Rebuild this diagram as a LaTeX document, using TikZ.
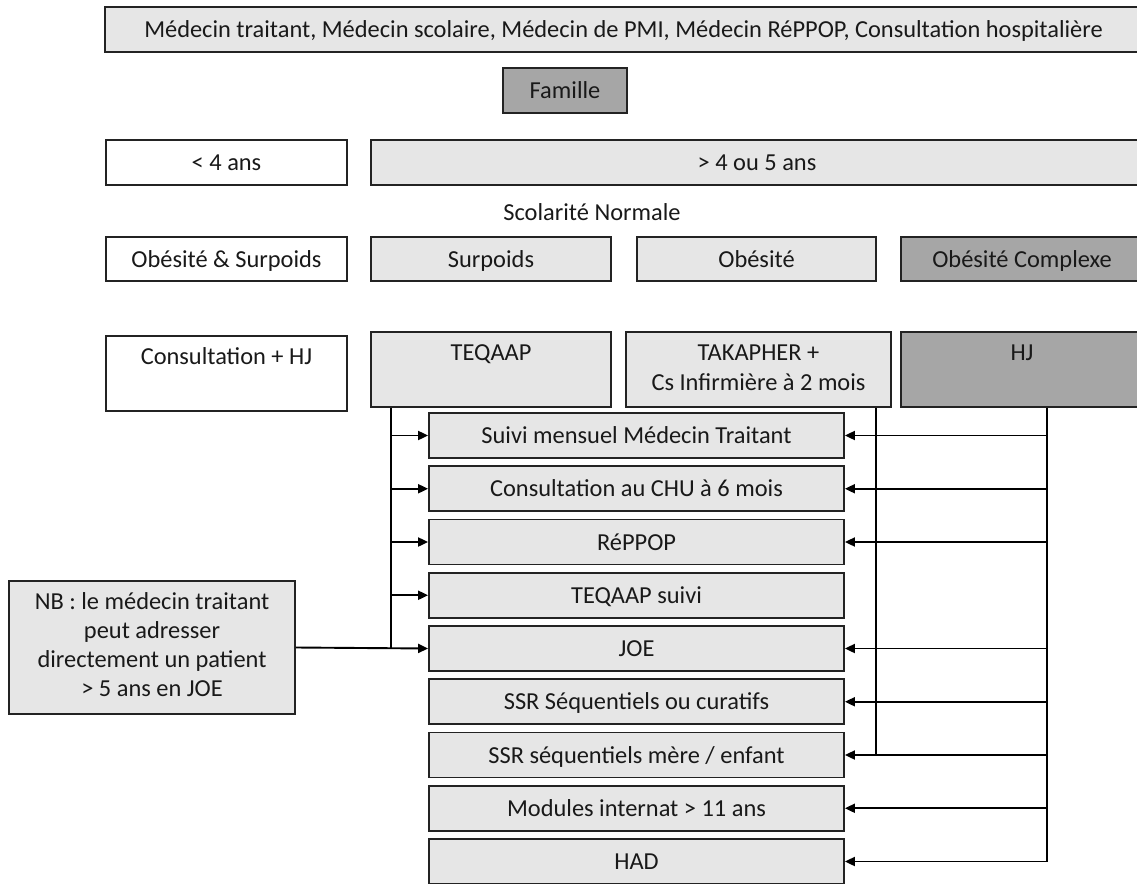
\documentclass[tikz,border=0pt]{standalone}
\usepackage{fontspec}
\setmainfont{Carlito}
\usetikzlibrary{arrows.meta}
\definecolor{lightfill}{RGB}{230,230,230}
\definecolor{darkfill}{RGB}{166,166,166}
\definecolor{edgecol}{RGB}{35,35,35}
\definecolor{txtcol}{RGB}{25,25,25}
\begin{document}
\begin{tikzpicture}[x=1pt,y=-1pt,
  box/.style={draw=edgecol, line width=1.8pt, inner sep=0pt, align=center,
    font=\fontsize{24.4}{30}\selectfont, text=txtcol},
  one/.style={text height=21pt, text depth=5pt},
  lbox/.style={box, fill=lightfill},
  dbox/.style={box, fill=darkfill},
  wbox/.style={box, fill=white},
  stackbox/.style={lbox, one, minimum width=415pt, minimum height=45pt},
  conn/.style={draw=black, line width=1.9pt},
  arr/.style={conn, -{Triangle[length=10pt,width=9pt]}},
]
\useasboundingbox (0,0) rectangle (1137,883);
\clip (0,0) rectangle (1137,883);

% top rows
\node[lbox, one, minimum width=1037pt, minimum height=45pt] (top) at (623.5,29.5)
  {Médecin traitant, Médecin scolaire, Médecin de PMI, Médecin RéPPOP, Consultation hospitalière};
\node[dbox, one, minimum width=124pt, minimum height=45pt] (famille) at (565,90.5) {Famille};

\node[wbox, one, minimum width=241pt, minimum height=45pt] (lt4) at (226.5,162.5) {< 4 ans};
\node[lbox, one, minimum width=772pt, minimum height=45pt] (gt4) at (757,162.5) {> 4 ou 5 ans};

\node[font=\fontsize{24.4}{30}\selectfont, text=txtcol, inner sep=0pt, one] (scol) at (592,212) {Scolarité Normale};

\node[wbox, one, minimum width=241pt, minimum height=44pt] (obsur) at (226.5,259) {Obésité \& Surpoids};
\node[lbox, one, minimum width=240pt, minimum height=44pt] (surpoids) at (491,259) {Surpoids};
\node[lbox, one, minimum width=239pt, minimum height=44pt] (obesite) at (756.5,259) {Obésité};
\node[dbox, one, minimum width=242pt, minimum height=44pt] (obcomp) at (1022,259) {Obésité Complexe};

% row 5
\node[wbox, minimum width=241pt, minimum height=75pt] (consult) at (226.5,373.5) {\strut Consultation + HJ\\ \strut};
\node[lbox, minimum width=240pt, minimum height=75pt] (teqaap) at (491,369.5) {\strut TEQAAP\\ \strut};
\node[lbox, minimum width=265pt, minimum height=75pt] (takapher) at (758.5,369.5) {\strut TAKAPHER +\\Cs Infirmière à 2 mois\strut};
\node[dbox, minimum width=242pt, minimum height=75pt] (hj) at (1022,369.5) {\strut HJ\\ \strut};

% stack
\node[stackbox] (suivi) at (636.5,435.5) {Suivi mensuel Médecin Traitant};
\node[stackbox] (chu) at (636.5,488.75) {Consultation au CHU à 6 mois};
\node[stackbox] (reppop) at (636.5,542) {RéPPOP};
\node[stackbox] (tsuivi) at (636.5,595.25) {TEQAAP suivi};
\node[stackbox] (joe) at (636.5,648.5) {JOE};
\node[stackbox] (ssr) at (636.5,701.75) {SSR Séquentiels ou curatifs};
\node[stackbox] (ssrm) at (636.5,755) {SSR séquentiels mère / enfant};
\node[stackbox] (modules) at (636.5,808.25) {Modules internat > 11 ans};
\node[stackbox] (had) at (636.5,861.5) {HAD};

% NB
\node[lbox, minimum width=286pt, minimum height=133pt, font=\fontsize{24.4}{29}\selectfont] (nb) at (152,647.5)
  {\strut NB : le médecin traitant\\peut adresser\\directement un patient\\> 5 ans en JOE\strut};

% bus coordinates
\coordinate (lbx) at (391,0);
\coordinate (tbx) at (876,0);
\coordinate (rbx) at (1047,0);

% left bus from TEQAAP
\draw[conn] (teqaap.south -| lbx) -- (joe.west -| lbx);
\foreach \n in {suivi,chu,reppop,tsuivi}
  \draw[arr] (\n.west -| lbx) -- (\n.west);
\draw[arr] (nb.east) -- (joe.west);

% bus from TAKAPHER
\draw[conn] (takapher.south -| tbx) -- (ssrm.east -| tbx);

% right bus from HJ
\draw[conn] (hj.south -| rbx) -- (had.east -| rbx);
\foreach \n in {suivi,chu,reppop,joe,ssr,ssrm,modules,had}
  \draw[arr] (\n.east -| rbx) -- (\n.east);
\end{tikzpicture}
\end{document}
